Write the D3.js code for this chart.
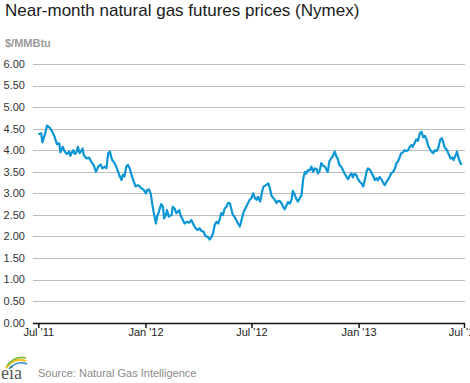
<!DOCTYPE html>
<html>
<head>
<meta charset="utf-8">
<script src="https://cdn.jsdelivr.net/npm/d3@7"></script>
<style>
  html, body { margin: 0; padding: 0; background: #fff; }
  svg { display: block; font-family: "Liberation Sans", Arial, sans-serif; }
</style>
</head>
<body>
<svg id="chart" width="470" height="383"></svg>
<script>
const title = "Near-month natural gas futures prices (Nymex)";
const unitLabel = "$/MMBtu";
const sourceText = "Source: Natural Gas Intelligence";

const yTicks = [0, 0.5, 1, 1.5, 2, 2.5, 3, 3.5, 4, 4.5, 5, 5.5, 6];
const xTickDates = ["2011-07-01", "2012-01-01", "2012-07-01", "2013-01-01", "2013-07-01"];
const xTickLabels = ["Jul '11", "Jan '12", "Jul '12", "Jan '13", "Jul '13"];

const dates = [
  "2011-07-01","2011-07-06","2011-07-08","2011-07-12","2011-07-16","2011-07-21","2011-07-25","2011-07-29",
  "2011-08-02","2011-08-06","2011-08-08","2011-08-12","2011-08-15","2011-08-19","2011-08-23","2011-08-25","2011-08-30",
  "2011-09-02","2011-09-05","2011-09-07","2011-09-10","2011-09-15","2011-09-17","2011-09-22","2011-09-26","2011-09-30",
  "2011-10-04","2011-10-08","2011-10-12","2011-10-16","2011-10-19","2011-10-23","2011-10-26","2011-10-29",
  "2011-11-01","2011-11-03","2011-11-05","2011-11-09","2011-11-13","2011-11-18","2011-11-21","2011-11-23","2011-11-26","2011-11-29",
  "2011-12-02","2011-12-05","2011-12-08","2011-12-12","2011-12-15","2011-12-19","2011-12-22","2011-12-25","2011-12-29",
  "2012-01-02","2012-01-04","2012-01-07","2012-01-10","2012-01-13","2012-01-15","2012-01-19","2012-01-21","2012-01-24","2012-01-28","2012-01-31",
  "2012-02-02","2012-02-05","2012-02-07","2012-02-10","2012-02-15","2012-02-17","2012-02-20","2012-02-23","2012-02-28",
  "2012-03-01","2012-03-04","2012-03-08","2012-03-12","2012-03-16","2012-03-20","2012-03-23","2012-03-27","2012-03-31",
  "2012-04-03","2012-04-06","2012-04-10","2012-04-13","2012-04-17","2012-04-20","2012-04-23","2012-04-26","2012-04-29",
  "2012-05-02","2012-05-05","2012-05-08","2012-05-10","2012-05-13","2012-05-16","2012-05-19","2012-05-22","2012-05-25","2012-05-28","2012-05-30",
  "2012-06-02","2012-06-05","2012-06-08","2012-06-11","2012-06-14","2012-06-17","2012-06-19","2012-06-22","2012-06-25","2012-06-28",
  "2012-07-01","2012-07-04","2012-07-07","2012-07-10","2012-07-12","2012-07-16","2012-07-20","2012-07-22","2012-07-26","2012-07-30",
  "2012-08-02","2012-08-04","2012-08-07","2012-08-10","2012-08-13","2012-08-16","2012-08-19","2012-08-22","2012-08-24","2012-08-27","2012-08-30",
  "2012-09-02","2012-09-05","2012-09-08","2012-09-10","2012-09-13","2012-09-16","2012-09-19","2012-09-22","2012-09-25","2012-09-28",
  "2012-10-01","2012-10-03","2012-10-06","2012-10-09","2012-10-12","2012-10-15","2012-10-18","2012-10-21","2012-10-23","2012-10-26","2012-10-29",
  "2012-11-01","2012-11-04","2012-11-07","2012-11-09","2012-11-12","2012-11-15","2012-11-18","2012-11-21","2012-11-24","2012-11-26","2012-11-29",
  "2012-12-02","2012-12-05","2012-12-08","2012-12-11","2012-12-14","2012-12-17","2012-12-20","2012-12-22","2012-12-25","2012-12-28","2012-12-31",
  "2013-01-03","2013-01-06","2013-01-09","2013-01-12","2013-01-15","2013-01-17","2013-01-21","2013-01-25","2013-01-29",
  "2013-02-01","2013-02-03","2013-02-06","2013-02-09","2013-02-12","2013-02-15","2013-02-18","2013-02-22","2013-02-26",
  "2013-03-01","2013-03-04","2013-03-07","2013-03-10","2013-03-13","2013-03-15","2013-03-18","2013-03-21","2013-03-24","2013-03-27","2013-03-30",
  "2013-04-02","2013-04-04","2013-04-07","2013-04-10","2013-04-13","2013-04-16","2013-04-19","2013-04-22","2013-04-25","2013-04-28","2013-04-30",
  "2013-05-03","2013-05-06","2013-05-09","2013-05-12","2013-05-15","2013-05-18","2013-05-21","2013-05-24","2013-05-26","2013-05-29",
  "2013-06-02","2013-06-05","2013-06-08","2013-06-11","2013-06-13","2013-06-17","2013-06-19","2013-06-21","2013-06-23","2013-06-25","2013-06-27"
];

const prices = [
  4.37,4.39,4.18,4.35,4.57,4.52,4.43,4.31,
  4.14,4.16,3.95,4.08,3.98,3.91,3.97,3.87,4.00,
  3.91,3.97,4.08,3.93,4.04,3.89,3.81,3.83,3.73,
  3.66,3.50,3.62,3.67,3.58,3.62,3.58,3.93,
  3.97,3.85,3.77,3.70,3.58,3.39,3.31,3.43,3.39,3.62,
  3.66,3.58,3.43,3.27,3.16,3.19,3.16,3.12,3.08,
  3.00,3.08,3.09,3.00,2.73,2.57,2.30,2.46,2.57,2.75,2.69,
  2.42,2.50,2.61,2.46,2.50,2.69,2.65,2.54,2.61,
  2.50,2.42,2.30,2.34,2.32,2.38,2.29,2.19,2.15,
  2.19,2.13,2.11,2.01,1.99,1.93,1.98,2.07,2.27,
  2.34,2.30,2.42,2.54,2.50,2.65,2.69,2.78,2.77,2.61,2.50,
  2.46,2.38,2.30,2.23,2.38,2.54,2.61,2.69,2.77,2.85,
  2.89,3.00,2.89,2.85,2.92,2.81,3.08,3.16,3.19,3.23,
  3.10,2.96,2.90,2.85,2.78,2.82,2.82,2.76,2.70,2.63,2.72,
  2.80,2.76,2.86,3.06,2.98,2.87,2.81,2.89,2.96,3.35,
  3.50,3.46,3.54,3.53,3.62,3.50,3.58,3.56,3.46,3.52,3.70,
  3.64,3.62,3.54,3.50,3.75,3.81,3.87,3.97,3.85,3.81,3.66,
  3.62,3.54,3.46,3.39,3.33,3.42,3.46,3.37,3.45,3.43,3.33,
  3.27,3.23,3.16,3.33,3.52,3.58,3.54,3.43,3.31,
  3.35,3.30,3.38,3.33,3.25,3.19,3.27,3.35,3.46,
  3.50,3.56,3.70,3.75,3.85,3.93,3.95,4.00,3.98,4.00,4.08,
  4.12,4.08,4.16,4.25,4.22,4.39,4.43,4.30,4.33,4.24,4.12,
  4.04,3.97,3.93,4.00,3.98,4.06,4.24,4.28,4.20,4.06,
  4.00,3.90,3.81,3.83,3.77,3.90,3.97,3.85,3.77,3.70,3.66
];

const parse = d3.timeParse("%Y-%m-%d");
const series = dates.map((d, i) => ({ date: parse(d), value: prices[i] }));

const svg = d3.select("#chart");

const plotLeft = 33, plotRight = 465;
const x = d3.scaleTime()
  .domain([parse(xTickDates[0]), parse(xTickDates[xTickDates.length - 1])])
  .range([38.3, 464]);
const y = d3.scaleLinear().domain([0, 6]).range([322.7, 64]);

// title
svg.append("text")
  .attr("x", 5).attr("y", 16)
  .attr("font-size", 17)
  .attr("fill", "#1a1a1a")
  .text(title);

svg.append("text")
  .attr("x", 5).attr("y", 47)
  .attr("font-size", 11)
  .attr("font-weight", "bold")
  .attr("fill", "#9a9a9a")
  .text(unitLabel);

// grid lines
svg.append("g").selectAll("line")
  .data(yTicks.filter(v => v > 0))
  .join("line")
  .attr("x1", plotLeft).attr("x2", plotRight)
  .attr("y1", d => Math.round(y(d)) + 0.5)
  .attr("y2", d => Math.round(y(d)) + 0.5)
  .attr("stroke", "#bdbdbd")
  .attr("stroke-width", 1);

// y labels
svg.append("g").selectAll("text")
  .data(yTicks)
  .join("text")
  .attr("x", 25)
  .attr("y", d => y(d))
  .attr("dy", "0.35em")
  .attr("text-anchor", "end")
  .attr("font-size", 11)
  .attr("fill", "#333")
  .text(d => d3.format(".2f")(d));

// line
const line = d3.line()
  .x(d => x(d.date))
  .y(d => y(d.value));

svg.append("path")
  .datum(series)
  .attr("d", line)
  .attr("fill", "none")
  .attr("stroke", "#0a96d6")
  .attr("stroke-width", 2.2)
  .attr("stroke-linejoin", "round");

// x axis
const xAxis = d3.axisBottom(x)
  .tickValues(xTickDates.map(parse))
  .tickFormat((d, i) => xTickLabels[i])
  .tickSize(5)
  .tickSizeOuter(0);

const gx = svg.append("g")
  .attr("transform", `translate(0,${Math.round(y(0))})`)
  .call(xAxis);
gx.select(".domain").remove();
gx.append("line")
  .attr("x1", plotLeft).attr("x2", plotRight)
  .attr("y1", 0.5).attr("y2", 0.5)
  .attr("stroke", "#111").attr("stroke-width", 1.5);
gx.selectAll(".tick line").attr("stroke", "#111").attr("stroke-width", 1.5);
gx.selectAll(".tick text")
  .attr("font-size", 11)
  .attr("font-family", "'Liberation Sans', Arial, sans-serif")
  .attr("fill", "#222")
  .attr("y", 5);

// footer logo
const logo = svg.append("g").attr("transform", "translate(1,355)");
logo.append("path").attr("d", "M5,13 Q13,2 25,6").attr("fill", "none").attr("stroke", "#f2c230").attr("stroke-width", 2.2);
logo.append("path").attr("d", "M6,11 Q14,0 25,3").attr("fill", "none").attr("stroke", "#7dba3c").attr("stroke-width", 1.6);
logo.append("path").attr("d", "M8,14 Q16,5 26,9").attr("fill", "none").attr("stroke", "#2a8fcf").attr("stroke-width", 1.6);
logo.append("text")
  .attr("x", 0).attr("y", 24)
  .attr("font-family", "'Liberation Serif', 'DejaVu Serif', serif")
  .attr("font-size", 18)
  .attr("fill", "#555")
  .text("eia");

svg.append("text")
  .attr("x", 38).attr("y", 377)
  .attr("font-size", 11)
  .attr("fill", "#8a8a8a")
  .text(sourceText);
</script>
</body>
</html>
